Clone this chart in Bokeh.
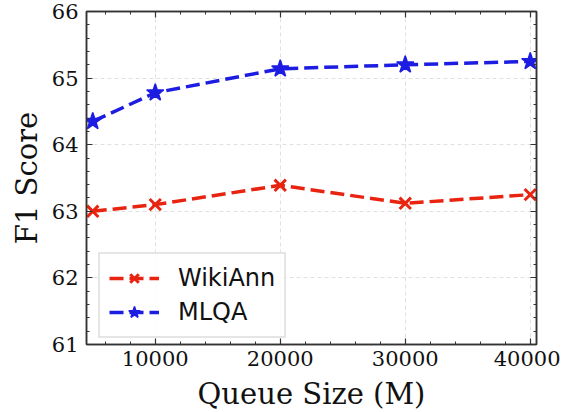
from bokeh.plotting import figure
from bokeh.models import (Range1d, FixedTicker, LinearAxis, Legend, LegendItem,
                          ColumnDataSource)
from bokeh.embed import file_html
from bokeh.resources import INLINE

queue_size = [5000, 10000, 20000, 30000, 40000]
wikiann = [63.0, 63.1, 63.39, 63.12, 63.25]
mlqa = [64.35, 64.78, 65.14, 65.2, 65.25]
x_ticks = [10000, 20000, 30000, 40000]
y_ticks = [61, 62, 63, 64, 65, 66]

RED = "#e8230f"
BLUE = "#1d1de2"
AX = "#333333"
SERIF = "DejaVu Serif"

p = figure(frame_width=450, frame_height=333, output_backend="svg",
           toolbar_location=None, x_range=Range1d(4500, 40500),
           y_range=Range1d(61, 66), min_border_left=86, min_border_right=24,
           min_border_top=11, min_border_bottom=64)
p.background_fill_color = "white"
p.border_fill_color = "white"
p.outline_line_color = AX
p.outline_line_width = 1.5

xt = FixedTicker(ticks=x_ticks, minor_ticks=list(range(4000, 42001, 2000)))
yt = FixedTicker(ticks=y_ticks, minor_ticks=[61 + 0.2 * i for i in range(26)])

for ax in p.xaxis:
    ax.ticker = xt
for ax in p.yaxis:
    ax.ticker = yt

def style_axis(ax, labels=True):
    ax.axis_line_color = AX
    ax.axis_line_width = 1.5
    ax.major_tick_in = 6
    ax.major_tick_out = 0
    ax.minor_tick_in = 3
    ax.minor_tick_out = 0
    ax.major_tick_line_color = AX
    ax.minor_tick_line_color = AX
    ax.major_tick_line_width = 1.2
    ax.minor_tick_line_width = 1.0
    if labels:
        ax.major_label_text_font = SERIF
        ax.major_label_text_font_size = "21px"
        ax.major_label_text_color = "#111111"
        ax.axis_label_text_font = SERIF
        ax.axis_label_text_font_size = "29px"
        ax.axis_label_text_font_style = "normal"
        ax.axis_label_text_color = "#111111"
    else:
        ax.major_label_text_font_size = "0px"
        ax.major_label_standoff = 0
        ax.major_label_text_color = None

style_axis(p.xaxis[0])
style_axis(p.yaxis[0])
p.xaxis[0].axis_label = "Queue Size (M)"
p.yaxis[0].axis_label = "F1 Score"
p.xaxis[0].major_label_standoff = 6
p.yaxis[0].major_label_standoff = 8
p.xaxis[0].axis_label_standoff = 8
p.yaxis[0].axis_label_standoff = 5

top = LinearAxis(ticker=xt)
right = LinearAxis(ticker=yt)
style_axis(top, labels=False)
style_axis(right, labels=False)
p.add_layout(top, "above")
p.add_layout(right, "right")

p.xgrid.ticker = FixedTicker(ticks=x_ticks)
p.ygrid.ticker = FixedTicker(ticks=y_ticks)
for g in (p.xgrid[0], p.ygrid[0]):
    g.grid_line_color = "#e0e0e0"
    g.grid_line_dash = "4 3"
    g.grid_line_width = 1

src = ColumnDataSource(dict(x=queue_size, w=wikiann, m=mlqa))

l1 = p.line("x", "w", source=src, line_color=RED, line_width=3.5, line_dash="14 6")
s1 = p.scatter("x", "w", source=src, marker="x", size=16, line_color=RED,
               line_width=3)
l2 = p.line("x", "m", source=src, line_color=BLUE, line_width=3.5, line_dash="14 6")
s2 = p.scatter("x", "m", source=src, marker="star", size=18, line_color=BLUE,
               fill_color=BLUE, line_width=1.5)

legend = Legend(items=[LegendItem(label="WikiAnn", renderers=[l1, s1]),
                       LegendItem(label="MLQA", renderers=[l2, s2])],
                location=(12, 6))
legend.label_text_font = "DejaVu Sans"
legend.label_text_font_size = "24px"
legend.label_text_color = "#111111"
legend.glyph_width = 50
legend.glyph_height = 30
legend.label_height = 30
legend.label_standoff = 19
legend.spacing = 4
legend.padding = 9
legend.margin = 0
legend.border_line_color = "#cccccc"
legend.border_line_width = 2
legend.background_fill_alpha = 0.85
p.add_layout(legend, "center")

open("out.html", "w").write(file_html(p, INLINE))
